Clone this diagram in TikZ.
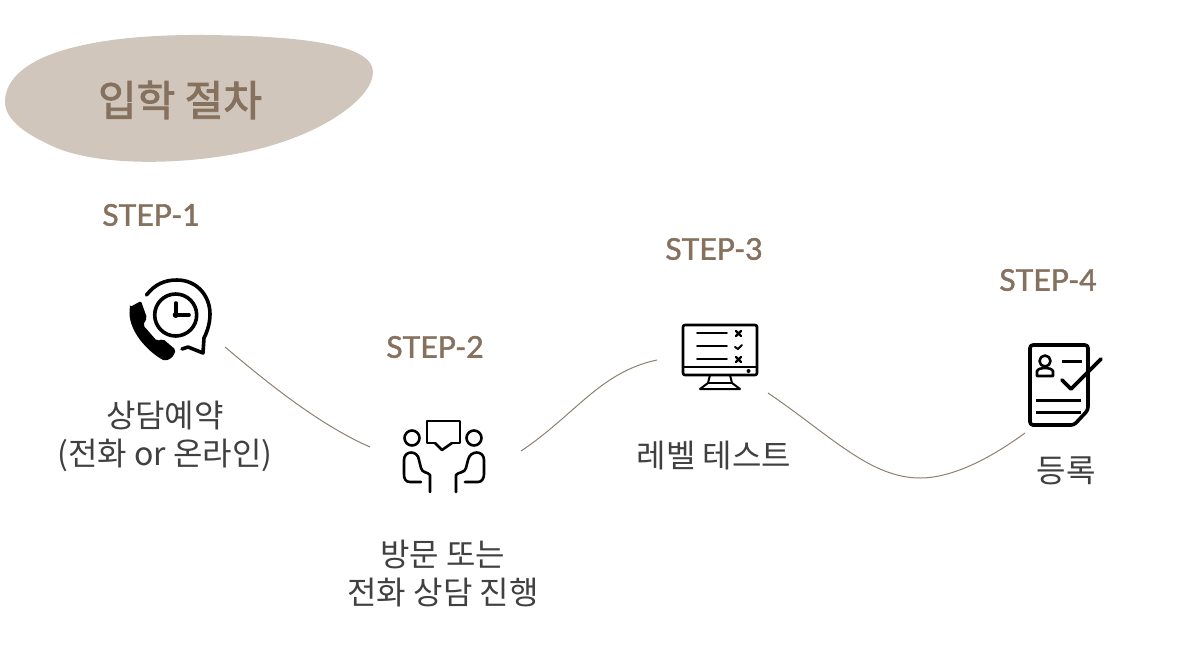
\documentclass[tikz,border=0pt]{standalone}
\usepackage{fontspec}
\setmainfont{Noto Sans CJK KR}
\newfontfamily\stepfont[RawFeature={embolden=1.6}]{Lato}
\newfontfamily\headfont[RawFeature={embolden=2}]{Noto Sans CJK KR}
\usetikzlibrary{positioning}
\definecolor{blobfill}{HTML}{D0C6BC}
\definecolor{titlecol}{HTML}{85715E}
\definecolor{labelcol}{HTML}{404040}
\definecolor{linkcol}{HTML}{8C8073}
\tikzset{
  steplabel/.style={text=titlecol,font=\stepfont\fontsize{30}{34}\selectfont,inner sep=0pt},
  desc/.style={text=labelcol,font=\fontsize{32}{38}\selectfont,align=center,inner sep=0pt},
  link/.style={draw=linkcol,line width=1pt},
  icon/.style={draw=black,line width=3.6pt,line cap=round,line join=round},
  thinicon/.style={draw=black,line width=2.6pt,line cap=round,line join=round}
}
\begin{document}
\begin{tikzpicture}[x=1pt,y=-1pt]
    \useasboundingbox (0,0) rectangle (1200,656);

    \fill[blobfill] (5,100) .. controls (8,55) and (90,34) .. (205,35)
        .. controls (300,36) and (373,44) .. (373,72)
        .. controls (373,100) and (315,140) .. (235,154)
        .. controls (170,166) and (90,165) .. (50,145)
        .. controls (22,132) and (4,118) .. (5,100);
    \node[text=titlecol,font=\headfont\fontsize{42}{44}\selectfont,inner sep=0pt] (title) at (180,100) {입학 절차};

    \node[steplabel] (step1) at (151,215) {STEP-1};
    \node[steplabel] (step2) at (435,347) {STEP-2};
    \node[steplabel] (step3) at (714,249) {STEP-3};
    \node[steplabel] (step4) at (1048,280) {STEP-4};

    \node[desc] (text1) at (165,436) {상담예약\\(전화 or 온라인)};
    \node[desc] (text2) at (443,574) {방문 또는\\전화 상담 진행};
    \node[desc] (text3) at (714,456) {레벨 테스트};
    \node[desc] (text4) at (1066,471) {등록};

    % phone icon
    \draw[icon] (146.5,295) .. controls (155,284) and (165,280) .. (177,280)
        .. controls (197,280) and (210,296) .. (210,314)
        .. controls (210,322) and (208,330) .. (204,338) -- (203,353) -- (188,347) -- (182,349);
    \draw[icon] (175.7,315) circle (21);
    \draw[icon] (175.7,303) -- (175.7,315) -- (189,315);
    \fill[black] (175.7,315) circle (3);
    \fill[black,rounded corners=2pt] (130,307) -- (141,301) -- (147,318) -- (143,325)
        -- (157,341) -- (163,339) -- (176,350) -- (172,358) -- (165,361)
        .. controls (148,352) and (127,330) .. (130,307) -- cycle;

    % meeting icon
    \draw[thinicon] (427,421) rectangle (460,443);
    \fill[white] (435,442) rectangle (452,445);
    \draw[thinicon] (435,443) -- (442,450) -- (452,443);
    \draw[thinicon] (412,438) circle (7.5);
    \draw[thinicon] (474,438) circle (7.5);
    \draw[thinicon] (421,482) -- (410,482) .. controls (405,482) and (404,478) .. (404,474) -- (404,460)
        .. controls (404,450) and (418,450) .. (419,460) -- (421,468) .. controls (422,473) and (428,472) .. (430,475) -- (430,492);
    \draw[thinicon] (465,482) -- (478,482) .. controls (482,482) and (484,478) .. (484,474) -- (484,460)
        .. controls (484,450) and (470,450) .. (468,460) -- (466,468) .. controls (465,473) and (458,472) .. (456,475) -- (456,492);

    % monitor icon
    \draw[thinicon,rounded corners=2pt] (683,325) rectangle (757,375);
    \draw[thinicon] (683,367) -- (757,367);
    \draw[thinicon,line width=1.8pt] (697,333) -- (727,333);
    \draw[thinicon,line width=1.8pt] (697,346) -- (727,346);
    \draw[thinicon,line width=1.8pt] (697,359) -- (727,359);
    \draw[thinicon,line width=2.2pt] (736,331) -- (741,336) (741,331) -- (736,336);
    \draw[thinicon,line width=2pt] (735,347) -- (738,349) -- (742,345);
    \draw[thinicon,line width=2.2pt] (736,357) -- (741,362) (741,357) -- (736,362);
    \fill[black] (748.5,371) circle (2);
    \draw[thinicon,line width=2pt] (710,375) -- (708,383) -- (700,389) -- (740,389) -- (732,383) -- (730,375);
    \draw[thinicon,line width=2pt] (708,383) -- (732,383);

    % form icon
    \draw[icon,rounded corners=3pt] (1088,392) -- (1088,345) -- (1030,345) -- (1030,425) -- (1074,425) -- (1088,410) -- (1088,392);
    \draw[thinicon] (1045,361) circle (5.5);
    \draw[thinicon] (1037,376) -- (1037,371) .. controls (1039,367) and (1051,367) .. (1053,371) -- (1053,376) -- cycle;
    \draw[icon,line cap=butt,line width=3pt] (1062,361) -- (1082,361);
    \draw[icon] (1062,380) -- (1071,389) -- (1101,359);
    \draw[icon,line cap=butt,line width=3pt] (1036,400) -- (1081,400);
    \draw[icon,line cap=butt,line width=3pt] (1036,412) -- (1081,412);

    % link ends
    \coordinate (a1) at (225,347);
    \coordinate (a2) at (370,447);
    \coordinate (b1) at (521,451);
    \coordinate (b2) at (657,360);
    \coordinate (c1) at (768,393);
    \coordinate (c2) at (1025,433);

    \draw[link] (a1) .. controls (270,385) and (320,425) .. (a2);
    \draw[link] (b1) .. controls (575,415) and (600,372) .. (b2);
    \draw[link] (c1) .. controls (830,435) and (870,478) .. (920,478) .. controls (955,478) and (995,455) .. (c2);
\end{tikzpicture}
\end{document}
